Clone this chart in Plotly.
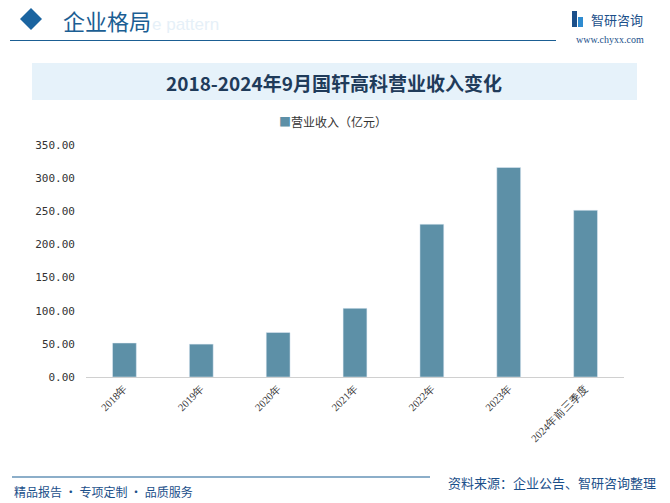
import plotly.graph_objects as go

categories = ["2018年", "2019年", "2020年", "2021年", "2022年", "2023年", "2024年前三季度"]
revenue = [51.3, 49.6, 67.2, 103.6, 230.5, 316.1, 251.5]
series_name = "营业收入（亿元）"
title_text = "2018-2024年9月国轩高科营业收入变化"
bar_color = "#5D90A7"

W, H = 670, 503
L, R, T, B = 86, 624, 145, 377

def px(x):
    return (x - L) / (R - L)

def py(y):
    return (B - y) / (B - T)

fig = go.Figure()
fig.add_trace(go.Bar(
    x=categories, y=revenue, name=series_name,
    marker=dict(color=bar_color), width=0.31,
    showlegend=False,
))

shapes = []
annotations = []

# header diamond
cx, cy, r = 31, 19, 11
shapes.append(dict(type="path", xref="paper", yref="paper",
    path=f"M {px(cx-r)},{py(cy)} L {px(cx)},{py(cy-r)} L {px(cx+r)},{py(cy)} L {px(cx)},{py(cy+r)} Z",
    fillcolor="#1B64A0", line=dict(width=0)))
# header line
shapes.append(dict(type="line", xref="paper", yref="paper",
    x0=px(10), x1=px(556), y0=py(40.5), y1=py(40.5), line=dict(color="#1B5E93", width=1.2)))
# title box
shapes.append(dict(type="rect", xref="paper", yref="paper",
    x0=px(32), x1=px(637), y0=py(63), y1=py(100), fillcolor="#E6F2FA", line=dict(width=0), layer="below"))
# footer line
shapes.append(dict(type="line", xref="paper", yref="paper",
    x0=px(12), x1=px(430), y0=py(477), y1=py(477), line=dict(color="#1B5E93", width=1.2)))
# logo mark
shapes.append(dict(type="rect", xref="paper", yref="paper",
    x0=px(572), x1=px(577), y0=py(11), y1=py(27), fillcolor="#1B4F8A", line=dict(width=0)))
shapes.append(dict(type="rect", xref="paper", yref="paper",
    x0=px(578), x1=px(583), y0=py(17), y1=py(27), fillcolor="#2E8BD0", line=dict(width=0)))

annotations.append(dict(text="e pattern", x=px(150), y=py(24), xref="paper", yref="paper",
    xanchor="left", yanchor="middle", showarrow=False,
    font=dict(family="Liberation Sans", size=17, color="#E6F0F8")))
annotations.append(dict(text="企业格局", x=px(61), y=py(20), xref="paper", yref="paper",
    xanchor="left", yanchor="middle", showarrow=False,
    font=dict(family="Noto Sans CJK SC", size=22, color="#1B5E93")))
annotations.append(dict(text="智研咨询", x=px(589), y=py(19), xref="paper", yref="paper",
    xanchor="left", yanchor="middle", showarrow=False,
    font=dict(family="Noto Sans CJK SC", size=13, color="#1B4F8A")))
annotations.append(dict(text="www.chyxx.com", x=px(646), y=py(40), xref="paper", yref="paper",
    xanchor="right", yanchor="middle", showarrow=False,
    font=dict(family="Liberation Serif", size=10, color="#1B4F8A")))
annotations.append(dict(text="<b>" + title_text + "</b>", x=px(334), y=py(82), xref="paper", yref="paper",
    xanchor="center", yanchor="middle", showarrow=False,
    font=dict(family="Noto Sans CJK SC", size=19, color="#1F3B5A")))
annotations.append(dict(text="精品报告 · 专项定制 · 品质服务", x=px(12), y=py(491), xref="paper", yref="paper",
    xanchor="left", yanchor="middle", showarrow=False,
    font=dict(family="Noto Sans CJK SC", size=12, color="#1B4F8A")))
annotations.append(dict(text="资料来源：企业公告、智研咨询整理", x=px(658), y=py(482), xref="paper", yref="paper",
    xanchor="right", yanchor="middle", showarrow=False,
    font=dict(family="Noto Sans CJK SC", size=13, color="#1B4F8A")))
# legend
annotations.append(dict(text=f"<span style='color:{bar_color}'>■</span>" + series_name,
    x=px(333), y=py(121), xref="paper", yref="paper",
    xanchor="center", yanchor="middle", showarrow=False,
    font=dict(family="Noto Sans CJK SC", size=12, color="#333333")))

fig.update_layout(
    width=W, height=H,
    margin=dict(l=L, r=W - R, t=T, b=H - B, pad=0),
    paper_bgcolor="white", plot_bgcolor="white",
    shapes=shapes, annotations=annotations,
    showlegend=False,
    bargap=0.69,
    xaxis=dict(showgrid=False, showline=True, linecolor="#D0D0D0", linewidth=1,
               tickangle=-45, tickfont=dict(family="Liberation Serif", size=10.5, color="#333333"),
               ticks="", fixedrange=True),
    yaxis=dict(range=[0, 350], dtick=50, tickformat=".2f", showgrid=False, zeroline=False,
               showline=False, ticks="", ticklabelstandoff=10,
               tickfont=dict(family="DejaVu Sans Mono", size=11, color="#333333"), fixedrange=True),
)

fig.write_html("out.html", config={"displayModeBar": False})
with open("out.html", "r", encoding="utf-8") as f:
    html = f.read()
html = html.replace("<head>", "<head><style>html,body{margin:0;padding:0;}</style>", 1)
with open("out.html", "w", encoding="utf-8") as f:
    f.write(html)
